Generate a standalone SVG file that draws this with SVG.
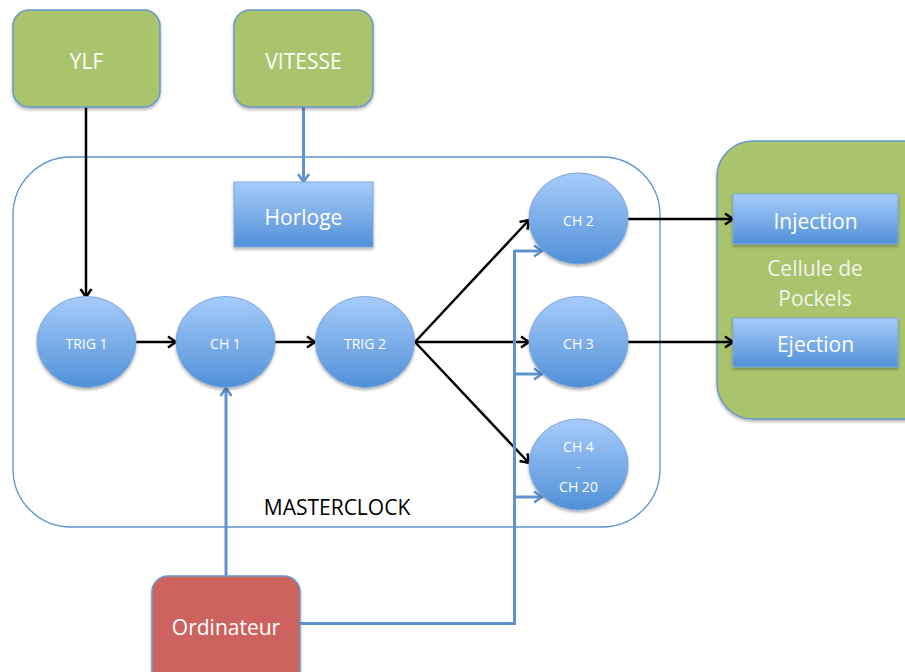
<svg xmlns="http://www.w3.org/2000/svg" width="905" height="672" viewBox="0 0 905 672">
<defs>
<linearGradient id="gb" x1="0" y1="0" x2="0" y2="1">
<stop offset="0" stop-color="#A7CCFA"/>
<stop offset="1" stop-color="#5190D8"/>
</linearGradient>
<filter id="sh" x="-20%" y="-20%" width="140%" height="150%">
<feDropShadow dx="0" dy="2" stdDeviation="1.5" flood-color="#000" flood-opacity="0.3"/>
</filter>
<marker id="ak" markerUnits="userSpaceOnUse" markerWidth="14" markerHeight="16" refX="11" refY="7" orient="auto" viewBox="0 0 14 14">
<path d="M3,1.5 L11,7 L3,12.5" fill="none" stroke="#000" stroke-width="2.5"/>
</marker>
<marker id="ab" markerUnits="userSpaceOnUse" markerWidth="14" markerHeight="16" refX="11" refY="7" orient="auto" viewBox="0 0 14 14">
<path d="M3,1.5 L11,7 L3,12.5" fill="none" stroke="#5F93CE" stroke-width="2.5"/>
</marker>
<style>
.box{fill:#A9C46C;stroke:#6797CD;stroke-width:1.5;filter:url(#sh)}
.red{fill:#CD645E;stroke:#6797CD;stroke-width:1.5;filter:url(#sh)}
.bl{fill:url(#gb);stroke:#7DA7D9;stroke-width:1;filter:url(#sh)}
.t{font-family:"Open Sans","Noto Sans",sans-serif;fill:#fff;text-anchor:middle}
.big{font-size:21px}
.sm{font-size:14px}
.k{stroke:#000;stroke-width:2.5;fill:none;marker-end:url(#ak)}
.b{stroke:#5F93CE;stroke-width:3;fill:none}
.ba{stroke:#5F93CE;stroke-width:3;fill:none;marker-end:url(#ab)}
</style>
</defs>
<rect width="905" height="672" fill="#fff"/>
<g id="masterclock">
<rect x="13" y="157" width="647" height="370" rx="58" ry="58" fill="none" stroke="#5F93CE" stroke-width="1.3"/>
<text class="t big" x="337" y="515" style="fill:#000">MASTERCLOCK</text>
</g>
<g id="pockels">
<rect class="box" x="717" y="141" width="230" height="278" rx="36" ry="36"/>
<text class="t big" x="815" y="276" style="fill:#F3F3EC">Cellule de</text>
<text class="t big" x="815" y="306" style="fill:#F3F3EC">Pockels</text>
</g>
<g id="connectors">
<line class="k" x1="86" y1="107" x2="86" y2="297"/>
<line class="ba" x1="303.5" y1="107" x2="303.5" y2="182"/>
<line class="k" x1="136" y1="342" x2="176" y2="342"/>
<line class="k" x1="275" y1="342" x2="315" y2="342"/>
<line class="k" x1="415" y1="342" x2="529" y2="220"/>
<line class="k" x1="415" y1="342" x2="529" y2="342"/>
<line class="k" x1="415" y1="342" x2="529" y2="463"/>
<line class="k" x1="628" y1="219" x2="733" y2="219"/>
<line class="k" x1="628" y1="342" x2="733" y2="342"/>
<line class="ba" x1="226" y1="576" x2="226" y2="388"/>
<polyline class="b" points="300,623.5 514.5,623.5 514.5,250"/>
<line class="ba" x1="514.5" y1="251" x2="542" y2="251"/>
<line class="ba" x1="514.5" y1="374" x2="542" y2="374"/>
<line class="ba" x1="514.5" y1="497" x2="542" y2="497"/>
</g>
<g id="ylf">
<rect class="box" x="13" y="10" width="147" height="97" rx="16" ry="16"/>
<text class="t big" x="86.5" y="69">YLF</text>
</g>
<g id="vitesse">
<rect class="box" x="234" y="10" width="139" height="97" rx="16" ry="16"/>
<text class="t big" x="303.5" y="69">VITESSE</text>
</g>
<g id="horloge">
<rect class="bl" x="234" y="182" width="139" height="65"/>
<text class="t big" x="303.5" y="225">Horloge</text>
</g>
<g id="trig1">
<ellipse class="bl" cx="86.5" cy="342" rx="49.5" ry="45.5"/>
<text class="t sm" x="86.5" y="349">TRIG 1</text>
</g>
<g id="ch1">
<ellipse class="bl" cx="225.5" cy="342" rx="49.5" ry="45.5"/>
<text class="t sm" x="225.5" y="349">CH 1</text>
</g>
<g id="trig2">
<ellipse class="bl" cx="365" cy="342" rx="49.5" ry="45.5"/>
<text class="t sm" x="365" y="349">TRIG 2</text>
</g>
<g id="ch2">
<ellipse class="bl" cx="578.5" cy="218.5" rx="49.5" ry="45.5"/>
<text class="t sm" x="578.5" y="226">CH 2</text>
</g>
<g id="ch3">
<ellipse class="bl" cx="578.5" cy="342" rx="49.5" ry="45.5"/>
<text class="t sm" x="578.5" y="349">CH 3</text>
</g>
<g id="ch4">
<ellipse class="bl" cx="578.5" cy="464.5" rx="49.5" ry="45.5"/>
<text class="t sm" x="578.5" y="452">CH 4</text>
<text class="t sm" x="578.5" y="472">-</text>
<text class="t sm" x="578.5" y="492">CH 20</text>
</g>
<g id="injection">
<rect class="bl" x="733" y="194" width="165" height="50"/>
<text class="t big" x="815.5" y="229">Injection</text>
</g>
<g id="ejection">
<rect class="bl" x="733" y="318" width="165" height="49"/>
<text class="t big" x="815.5" y="352">Ejection</text>
</g>
<g id="ordinateur">
<rect class="red" x="152" y="576" width="148" height="110" rx="16" ry="16"/>
<text class="t big" x="226" y="635">Ordinateur</text>
</g>
</svg>
